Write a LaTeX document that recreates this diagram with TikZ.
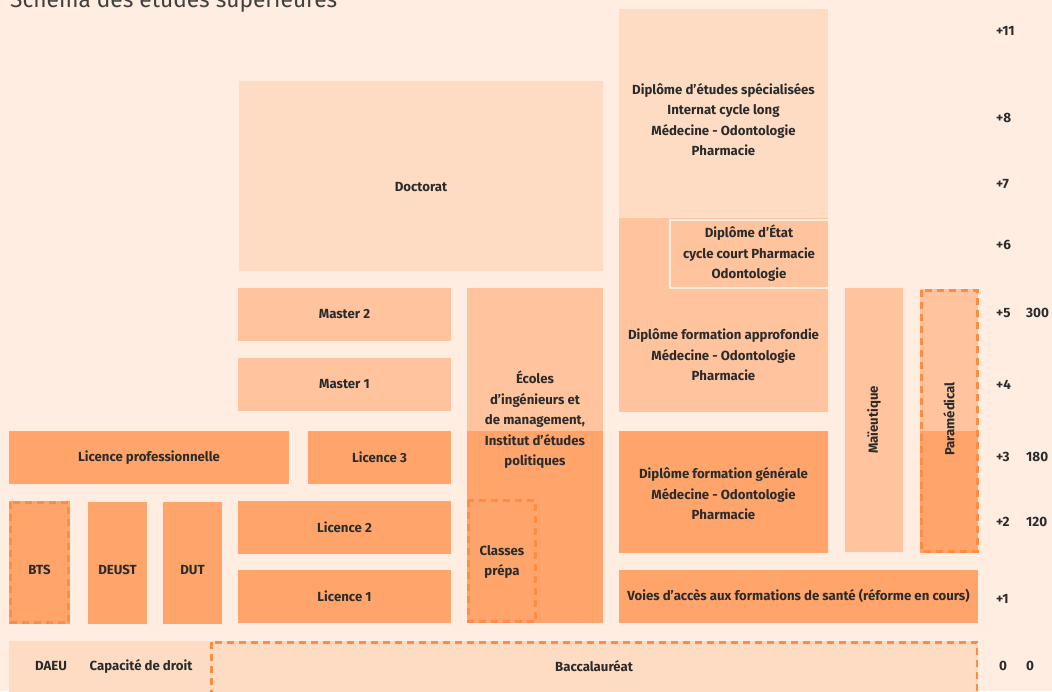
\documentclass[tikz,border=0pt]{standalone}
\usepackage{fontspec}
\setmainfont{Fira Sans}
\definecolor{fond}{HTML}{FFEDE2}
\definecolor{clair}{HTML}{FEDCC3}
\definecolor{moyen}{HTML}{FFC39D}
\definecolor{fonce}{HTML}{FFA56B}
\definecolor{trait}{HTML}{FF8C42}
\definecolor{texte}{HTML}{2B2B2B}
\tikzset{
  lbl/.style={font=\bfseries\fontsize{13.2}{20.5}\selectfont, text=texte, align=center, inner sep=0pt},
  annee/.style={font=\bfseries\fontsize{13.5}{15}\selectfont, text=texte, anchor=west, inner sep=0pt},
  pointille/.style={draw=trait, line width=2.6pt, dash pattern=on 7pt off 5pt}
}
\begin{document}
\begin{tikzpicture}[x=1pt,y=-1pt]
  \useasboundingbox (0,0) rectangle (1052,691);
  \clip (0,0) rectangle (1052,691);
  \fill[fond] (0,0) rectangle (1052,691);
  % titre
  \node[font=\fontsize{22.7}{26}\selectfont, text=texte!90, anchor=base west, inner sep=0pt]
    (titre) at (10,7) {Schéma des études supérieures};
  % blocs
  \fill[clair] (239,81) rectangle (603,271);
  \fill[clair] (619,9) rectangle (828,218);
  \fill[moyen] (619,218) rectangle (828,412);
  \draw[fond, line width=2pt] (670,220) rectangle (830,288);
  \fill[moyen] (238,288) rectangle (451,341);
  \fill[moyen] (238,358) rectangle (451,411);
  \fill[moyen] (467,288) rectangle (603,431);
  \fill[fonce] (467,431) rectangle (603,623);
  \fill[fonce] (9,431) rectangle (289,484);
  \fill[fonce] (308,431) rectangle (451,484);
  \fill[fonce] (619,431) rectangle (828,553);
  \fill[moyen] (845,288) rectangle (903,552);
  \fill[moyen] (920,289) rectangle (978,431);
  \fill[fonce] (920,431) rectangle (978,553);
  \fill[fonce] (238,501) rectangle (451,554);
  \fill[fonce] (238,570) rectangle (451,623);
  \fill[fonce] (619,570) rectangle (978,623);
  \fill[fonce] (9,501) rectangle (70,624);
  \fill[fonce] (88,502) rectangle (147,624);
  \fill[fonce] (163,502) rectangle (222,624);
  \fill[clair] (9,641) rectangle (978,700);
  % contours pointilles
  \draw[pointille] (10.3,502.3) rectangle (68.7,622.7);
  \draw[pointille] (468.3,500.3) rectangle (535.7,621.7);
  \draw[pointille] (921.3,290.3) rectangle (977.2,551.7);
  \draw[pointille] (211.3,642.3) rectangle (977,710);
  % textes
  \node[lbl] (doctorat) at (421,187) {Doctorat};
  \node[lbl] (des) at (723.5,119.5) {Diplôme d’études spécialisées\\Internat cycle long\\Médecine - Odontologie\\Pharmacie};
  \node[lbl] (de) at (749,253.5) {Diplôme d’État\\cycle court Pharmacie\\Odontologie};
  \node[lbl] (dfa) at (723.5,355) {Diplôme formation approfondie\\Médecine - Odontologie\\Pharmacie};
  \node[lbl] (dfg) at (723.5,494) {Diplôme formation générale\\Médecine - Odontologie\\Pharmacie};
  \node[lbl] (voies) at (798.5,596) {Voies d’accès aux formations de santé (réforme en cours)};
  \node[lbl] (master2) at (344.5,314.5) {Master 2};
  \node[lbl] (master1) at (344.5,384.5) {Master 1};
  \node[lbl] (ecoles) at (535,420) {Écoles\\d’ingénieurs et\\de management,\\Institut d’études\\politiques};
  \node[lbl] (licpro) at (149,457.5) {Licence professionnelle};
  \node[lbl] (licence3) at (379.5,457.5) {Licence 3};
  \node[lbl] (licence2) at (344.5,527.5) {Licence 2};
  \node[lbl] (licence1) at (344.5,596.5) {Licence 1};
  \node[lbl] (prepa) at (502,562) {Classes\\prépa};
  \node[lbl] (bts) at (39.5,570) {BTS};
  \node[lbl] (deust) at (117.5,570) {DEUST};
  \node[lbl] (dut) at (192.5,570) {DUT};
  \node[lbl, rotate=90] (maieutique) at (874,420) {Maïeutique};
  \node[lbl, rotate=90] (paramedical) at (949,419) {Paramédical};
  \node[lbl] (daeu) at (51,666) {DAEU};
  \node[lbl] (capacite) at (141,666) {Capacité de droit};
  \node[lbl] (bac) at (594,666) {Baccalauréat};
  % annees et credits
  \node[annee] (a11) at (996,31) {+11};
  \node[annee] (a8) at (996,118) {+8};
  \node[annee] (a7) at (996,184) {+7};
  \node[annee] (a6) at (996,245) {+6};
  \node[annee] (a5) at (996,313) {+5};
  \node[annee] (a4) at (996,385) {+4};
  \node[annee] (a3) at (996,457) {+3};
  \node[annee] (a2) at (996,522) {+2};
  \node[annee] (a1) at (996,599) {+1};
  \node[annee] (a0) at (999,666) {0};
  \node[annee] (c300) at (1026,313) {300};
  \node[annee] (c180) at (1026,457) {180};
  \node[annee] (c120) at (1026,522) {120};
  \node[annee] (c0) at (1026,666) {0};
\end{tikzpicture}
\end{document}
